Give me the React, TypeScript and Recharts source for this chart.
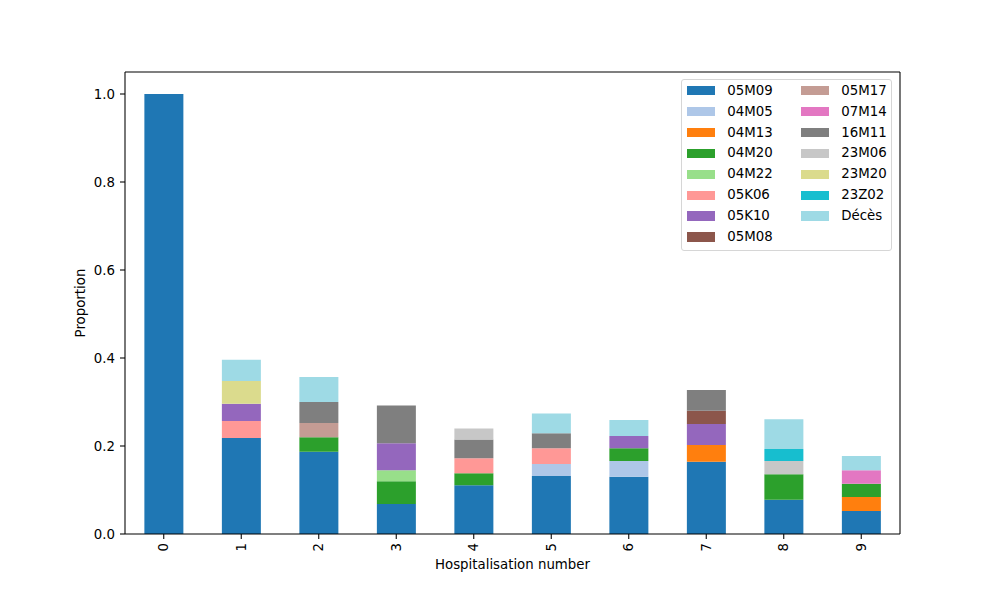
import React from 'react';
import { BarChart, Bar, XAxis, YAxis, Legend } from 'recharts';

const categories = ['0', '1', '2', '3', '4', '5', '6', '7', '8', '9'];

const s05M09 = [1.0, 0.218, 0.187, 0.068, 0.111, 0.132, 0.130, 0.164, 0.078, 0.052];
const s04M05 = [0, 0, 0, 0, 0, 0.027, 0.036, 0, 0, 0];
const s04M13 = [0, 0, 0, 0, 0, 0, 0, 0.038, 0, 0.032];
const s04M20 = [0, 0, 0.033, 0.052, 0.027, 0, 0.029, 0, 0.058, 0.030];
const s04M22 = [0, 0, 0, 0.025, 0, 0, 0, 0, 0, 0];
const s05K06 = [0, 0.039, 0, 0, 0.034, 0.036, 0, 0, 0, 0];
const s05K10 = [0, 0.039, 0, 0.061, 0, 0, 0.028, 0.048, 0, 0];
const s05M08 = [0, 0, 0, 0, 0, 0, 0, 0.030, 0, 0];
const s05M17 = [0, 0, 0.032, 0, 0, 0, 0, 0, 0, 0];
const s07M14 = [0, 0, 0, 0, 0, 0, 0, 0, 0, 0.031];
const s16M11 = [0, 0, 0.048, 0.086, 0.043, 0.034, 0, 0.047, 0, 0];
const s23M06 = [0, 0, 0, 0, 0.025, 0, 0, 0, 0.030, 0];
const s23M20 = [0, 0.052, 0, 0, 0, 0, 0, 0, 0, 0];
const s23Z02 = [0, 0, 0, 0, 0, 0, 0, 0, 0.027, 0];
const sDeces = [0, 0.048, 0.057, 0, 0, 0.045, 0.036, 0, 0.068, 0.032];

const yTicks = [0, 0.2, 0.4, 0.6, 0.8, 1.0];

const series = [
  { name: '05M09', values: s05M09, color: '#1f77b4' },
  { name: '04M05', values: s04M05, color: '#aec7e8' },
  { name: '04M13', values: s04M13, color: '#ff7f0e' },
  { name: '04M20', values: s04M20, color: '#2ca02c' },
  { name: '04M22', values: s04M22, color: '#98df8a' },
  { name: '05K06', values: s05K06, color: '#ff9896' },
  { name: '05K10', values: s05K10, color: '#9467bd' },
  { name: '05M08', values: s05M08, color: '#8c564b' },
  { name: '05M17', values: s05M17, color: '#c49c94' },
  { name: '07M14', values: s07M14, color: '#e377c2' },
  { name: '16M11', values: s16M11, color: '#7f7f7f' },
  { name: '23M06', values: s23M06, color: '#c7c7c7' },
  { name: '23M20', values: s23M20, color: '#dbdb8d' },
  { name: '23Z02', values: s23Z02, color: '#17becf' },
  { name: 'Décès', values: sDeces, color: '#9edae5' },
];

const data = categories.map((c, i) => {
  const row: Record<string, any> = { name: c };
  series.forEach((s) => {
    row[s.name] = s.values[i];
  });
  return row;
});

const FONT = 'DejaVu Sans, sans-serif';
const FS = 13.33;

const XTick = (props: any) => {
  const { x, y, payload } = props;
  return (
    <g transform={`translate(${x},${y})`}>
      <text transform="rotate(-90)" textAnchor="end" dy="0.35em" fill="#000" fontSize={FS} fontFamily={FONT}>
        {payload.value}
      </text>
    </g>
  );
};

const renderLegend = () => {
  const rows = 8;
  return (
    <div
      style={{
        position: 'relative',
        width: 211,
        height: 172,
        border: '1px solid #d6d6d6',
        borderRadius: 3,
        background: 'rgba(255,255,255,0.8)',
        boxSizing: 'border-box',
        fontFamily: FONT,
        fontSize: FS,
        color: '#000',
      }}
    >
      {series.map((s, i) => {
        const col = Math.floor(i / rows);
        const row = i % rows;
        const left = col === 0 ? 4.5 : 118.5;
        const cy = 10.7 + row * 20.9;
        return (
          <div key={s.name}>
            <div
              style={{
                position: 'absolute',
                left,
                top: cy - 4.7,
                width: 28,
                height: 9.4,
                background: s.color,
              }}
            />
            <div
              style={{
                position: 'absolute',
                left: left + 40.7,
                top: cy - 8,
                lineHeight: '16px',
                whiteSpace: 'nowrap',
              }}
            >
              {s.name}
            </div>
          </div>
        );
      })}
    </div>
  );
};

const YLabel = (props: any) => {
  const vb = props.viewBox || { x: 65, y: 72, width: 60, height: 462 };
  const cx = vb.x + 15;
  const cy = vb.y + vb.height / 2;
  return (
    <text
      x={cx}
      y={cy}
      transform={`rotate(-90, ${cx}, ${cy})`}
      textAnchor="middle"
      dominantBaseline="central"
      fill="#000"
      fontSize={FS}
      fontFamily={FONT}
    >
      Proportion
    </text>
  );
};

const XLabel = (props: any) => {
  const vb = props.viewBox || { x: 125, y: 534, width: 775, height: 30 };
  const cx = vb.x + vb.width / 2;
  const cy = vb.y + 30;
  return (
    <text x={cx} y={cy} textAnchor="middle" dominantBaseline="central" fill="#000" fontSize={FS} fontFamily={FONT}>
      Hospitalisation number
    </text>
  );
};

export default function App() {
  return (
    <div style={{ position: 'absolute', left: 0, top: 0, width: 1000, height: 600, background: '#fff', fontFamily: FONT }}>
      <BarChart
        width={1000}
        height={600}
        data={data}
        margin={{ top: 71, right: 99, bottom: 36, left: 65 }}
        barCategoryGap="25%"
      >
        <XAxis
          dataKey="name"
          height={30}
          tick={<XTick />}
          tickSize={5}
          tickMargin={4}
          interval={0}
          axisLine={{ stroke: '#000', strokeWidth: 1.07 }}
          tickLine={{ stroke: '#000', strokeWidth: 1.07 }}
          label={<XLabel />}
        />
        <XAxis
          xAxisId="top"
          orientation="top"
          dataKey="name"
          height={1}
          tick={false}
          tickLine={false}
          axisLine={{ stroke: '#000', strokeWidth: 1.07 }}
        />
        <YAxis
          width={60}
          domain={[0, 1.05]}
          ticks={yTicks}
          tickFormatter={(v: number) => v.toFixed(1)}
          tickSize={5}
          tickMargin={5}
          tick={{ fill: '#000', fontSize: FS, fontFamily: FONT }}
          axisLine={{ stroke: '#000', strokeWidth: 1.07 }}
          tickLine={{ stroke: '#000', strokeWidth: 1.07 }}
          allowDataOverflow
          label={<YLabel />}
        />
        <YAxis
          yAxisId="right"
          orientation="right"
          width={1}
          domain={[0, 1.05]}
          tick={false}
          tickLine={false}
          axisLine={{ stroke: '#000', strokeWidth: 1.07 }}
        />
        <Legend
          content={renderLegend}
          verticalAlign="middle"
          layout="horizontal"
          wrapperStyle={{ position: 'absolute', left: 681, top: 79, width: 212, height: 172 }}
        />
        {series.map((s) => (
          <Bar key={s.name} dataKey={s.name} stackId="a" fill={s.color} isAnimationActive={false} />
        ))}
      </BarChart>
    </div>
  );
}
